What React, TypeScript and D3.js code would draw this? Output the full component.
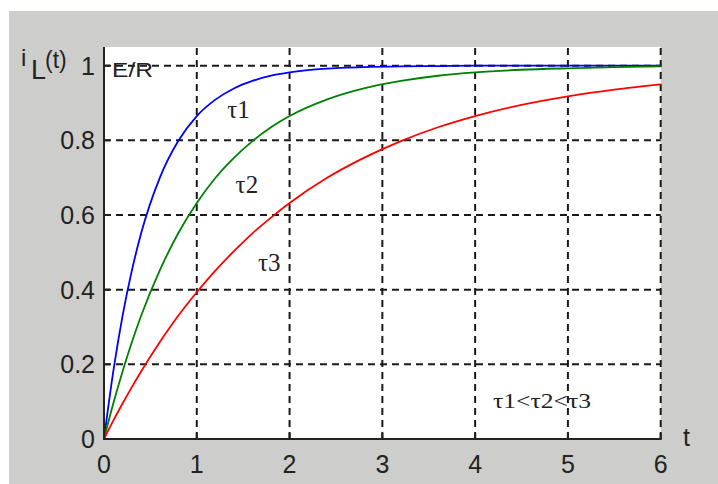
import React from "react";
import * as d3 from "d3";

// sample times and the three step responses
const times = [0, 0.1, 0.2, 0.3, 0.4, 0.6, 0.8, 1.0, 1.2, 1.4, 1.6, 1.8, 2.0, 2.4, 2.8, 3.2, 3.6, 4.0, 4.5, 5.0, 5.5, 6.0];
const tau1 = [0, 0.181, 0.33, 0.451, 0.551, 0.699, 0.798, 0.865, 0.909, 0.939, 0.959, 0.973, 0.982, 0.992, 0.996, 0.998, 0.999, 1.0, 1.0, 1.0, 1.0, 1.0];
const tau2 = [0, 0.095, 0.181, 0.259, 0.33, 0.451, 0.551, 0.632, 0.699, 0.753, 0.798, 0.835, 0.865, 0.909, 0.939, 0.959, 0.973, 0.982, 0.989, 0.993, 0.996, 0.998];
const tau3 = [0, 0.049, 0.095, 0.139, 0.181, 0.259, 0.33, 0.393, 0.451, 0.503, 0.551, 0.593, 0.632, 0.699, 0.753, 0.798, 0.835, 0.865, 0.895, 0.918, 0.936, 0.95];

const xTicks = [0, 1, 2, 3, 4, 5, 6];
const yTicks = [0, 0.2, 0.4, 0.6, 0.8, 1];
const yTickLabels = ["0", "0.2", "0.4", "0.6", "0.8", "1"];

const series = [
  { name: "τ1", values: tau1, color: "#0000ff", at: [1.45, 0.86] },
  { name: "τ2", values: tau2, color: "#008000", at: [1.54, 0.66] },
  { name: "τ3", values: tau3, color: "#ff0000", at: [1.78, 0.45] },
];

const W = 718;
const H = 484;

export default function App() {
  const x = d3.scaleLinear().domain([0, 6]).range([104, 660.7]);
  const y = d3.scaleLinear().domain([0, 1.05]).range([439, 47]);

  const line = d3
    .line<number>()
    .x((d, i) => x(times[i]))
    .y((d) => y(d))
    .curve(d3.curveMonotoneX);

  const sans = "Liberation Sans, Arial, sans-serif";
  const serif = "Liberation Serif, Times New Roman, serif";

  return (
    <svg width={W} height={H} style={{ position: "absolute", left: 0, top: 0 }}>
      <rect x={0} y={0} width={W} height={H} fill="#ffffff" />
      <rect x={9} y={11} width={W - 9} height={H - 11} fill="#cdcecb" />
      <rect x={x(0)} y={y(1.05)} width={x(6) - x(0)} height={y(0) - y(1.05)} fill="#ffffff" />

      {/* grid */}
      {xTicks.slice(1).map((t) => (
        <line key={"gx" + t} x1={x(t)} x2={x(t)} y1={y(0)} y2={y(1.05)}
          stroke="#1a1a1a" strokeWidth={2} strokeDasharray="7,5" />
      ))}
      {yTicks.slice(1).map((v) => (
        <line key={"gy" + v} x1={x(0)} x2={x(6)} y1={y(v)} y2={y(v)}
          stroke="#1a1a1a" strokeWidth={2} strokeDasharray="7,5" />
      ))}

      {/* curves */}
      {series.map((s) => (
        <path key={s.name} d={line(s.values) || ""} fill="none" stroke={s.color} strokeWidth={1.8} />
      ))}

      {/* axes */}
      <line x1={x(0)} x2={x(0)} y1={y(0) + 1} y2={y(1.05)} stroke="#222" strokeWidth={2} />
      <line x1={x(0) - 1} x2={x(6) + 1} y1={y(0)} y2={y(0)} stroke="#222" strokeWidth={2} />
      {yTicks.map((v) => (
        <line key={"ty" + v} x1={x(0)} x2={x(0) + 6} y1={y(v)} y2={y(v)} stroke="#222" strokeWidth={2} />
      ))}
      {xTicks.map((t) => (
        <line key={"tx" + t} x1={x(t)} x2={x(t)} y1={y(0)} y2={y(0) - 6} stroke="#222" strokeWidth={2} />
      ))}

      {/* tick labels */}
      {yTicks.map((v, i) => (
        <text key={"ly" + v} x={95} y={y(v) + 9} textAnchor="end" fontFamily={sans} fontSize={25} fill="#222">
          {yTickLabels[i]}
        </text>
      ))}
      {xTicks.map((t) => (
        <text key={"lx" + t} x={x(t)} y={473} textAnchor="middle" fontFamily={sans} fontSize={25} fill="#222">
          {t}
        </text>
      ))}

      {/* axis labels */}
      <text fontFamily={sans} fill="#222">
        <tspan x={21} y={66} fontSize={24}>i</tspan>
        <tspan x={31} y={79} fontSize={27}>L</tspan>
        <tspan x={45} y={68} fontSize={23}>(t)</tspan>
      </text>
      <text x={683} y={446} fontFamily={sans} fontSize={25} fill="#222">t</text>

      {/* annotations */}
      <text x={112} y={77} fontFamily={sans} fontSize={20} textLength={41} lengthAdjust="spacingAndGlyphs" fill="#222">
        E/R
      </text>
      {series.map((s) => (
        <text key={"a" + s.name} x={x(s.at[0])} y={y(s.at[1])} textAnchor="middle" fontFamily={serif} fontSize={25} fill="#222">
          {s.name}
        </text>
      ))}
      <text x={493} y={408} fontFamily={serif} fontSize={22} textLength={98} lengthAdjust="spacingAndGlyphs" fill="#222">
        τ1&lt;τ2&lt;τ3
      </text>
    </svg>
  );
}
